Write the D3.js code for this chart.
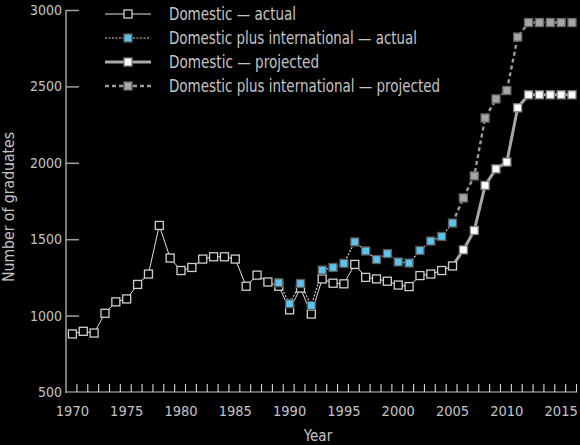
<!DOCTYPE html>
<html>
<head>
<meta charset="utf-8">
<script src="https://cdn.jsdelivr.net/npm/d3@7"></script>
<style>
  body { margin: 0; background: #000; }
  svg { display: block; background: #000; }
  text { font-family: "Liberation Sans Narrow", "DejaVu Sans Condensed", sans-serif; font-stretch: condensed;
         fill: #c4c4c4; }
</style>
</head>
<body>
<svg id="fig"></svg>
<script>
// actual values
const domActualYears = [1970, 1971, 1972, 1973, 1974, 1975, 1976, 1977, 1978, 1979,
                        1980, 1981, 1982, 1983, 1984, 1985, 1986, 1987, 1988, 1989,
                        1990, 1991, 1992, 1993, 1994, 1995, 1996, 1997, 1998, 1999,
                        2000, 2001, 2002, 2003, 2004, 2005];
const domActual = [880, 897, 886, 1015, 1090, 1109, 1204, 1272, 1590, 1377,
                   1295, 1315, 1370, 1385, 1385, 1370, 1192, 1265, 1220, 1192,
                   1038, 1180, 1010, 1240, 1212, 1208, 1335, 1250, 1240, 1225,
                   1200, 1190, 1262, 1272, 1295, 1325];

const intlActualYears = [1989, 1990, 1991, 1992, 1993, 1994, 1995, 1996, 1997,
                         1998, 1999, 2000, 2001, 2002, 2003, 2004, 2005];
const intlActual = [1215, 1078, 1210, 1066, 1298, 1315, 1342, 1482, 1423,
                    1367, 1406, 1351, 1344, 1426, 1488, 1518, 1606];

// projections (first entry joins the last actual year)
const projYears = [2005, 2006, 2007, 2008, 2009, 2010, 2011, 2012, 2013, 2014, 2015, 2016];
const domProj  = [1325, 1430, 1557, 1852, 1960, 2005, 2360, 2445, 2445, 2445, 2445, 2445];
const intlProj = [1606, 1770, 1914, 2293, 2418, 2473, 2823, 2918, 2918, 2918, 2918, 2918];

const yTicks = [500, 1000, 1500, 2000, 2500, 3000];
const xTickLabels = [1970, 1975, 1980, 1985, 1990, 1995, 2000, 2005, 2010, 2015];
const legendLabels = ['Domestic \u2014 actual',
                      'Domestic plus international \u2014 actual',
                      'Domestic \u2014 projected',
                      'Domestic plus international \u2014 projected'];
const legendWidths = [127, 248, 150, 271];

const width = 580, height = 445;
const svg = d3.select('#fig').attr('width', width).attr('height', height);

const x = d3.scaleLinear().domain([1970, 2016]).range([72.4, 572]);
const y = d3.scaleLinear().domain([500, 3000]).range([392, 10]);

const styles = [
  { line: '#e0e0e0', lw: 1, dash: null, fill: '#000', stroke: '#cfcfcf' },
  { line: '#d0d0d0', lw: 1.2, dash: '2,1.5', fill: '#5cc3ec', stroke: '#5a5a5a' },
  { line: '#a8a8a8', lw: 3, dash: null, fill: '#fff', stroke: '#808080' },
  { line: '#9c9c9c', lw: 2.4, dash: '4,3', fill: '#a6a6a6', stroke: '#6a6a6a' }
];

// axes
const axisCol = '#a0a0a0';
svg.append('line').attr('x1', 66).attr('x2', 66).attr('y1', y(3000)).attr('y2', y(500) + 1)
  .attr('stroke', axisCol).attr('stroke-width', 1.5);
svg.append('line').attr('x1', 66).attr('x2', 577).attr('y1', y(500)).attr('y2', y(500))
  .attr('stroke', '#c8c8c8').attr('stroke-width', 1.2);

const yAxis = svg.append('g').attr('transform', 'translate(66,0)')
  .call(d3.axisRight(y).tickValues(yTicks).tickSize(13).tickFormat(''));
yAxis.select('.domain').remove();
yAxis.selectAll('.tick line').attr('stroke', axisCol).attr('stroke-width', 1.5);
yAxis.selectAll('.tick').filter(d => d === 500).select('line').remove();

svg.selectAll('.ylab').data(yTicks).enter().append('text')
  .attr('x', 62).attr('y', d => y(d) + 5)
  .attr('text-anchor', 'end').style('font-size', '14px').text(d => d);

const xt = svg.append('g').attr('transform', `translate(4,${y(500)})`)
  .call(d3.axisTop(x).tickValues(d3.range(1970, 2017)).tickSize(8).tickFormat(''));
xt.select('.domain').remove();
xt.selectAll('.tick line').attr('stroke', '#d8d8d8').attr('stroke-width', 1.1);

svg.selectAll('.xlab').data(xTickLabels).enter().append('text')
  .attr('x', d => x(d)).attr('y', 416)
  .attr('text-anchor', 'middle').style('font-size', '14.5px').text(d => d);

svg.append('text').attr('x', 318).attr('y', 441).attr('text-anchor', 'middle')
  .style('font-size', '15px').text('Year');
svg.append('text').attr('transform', 'translate(14,207) rotate(-90)')
  .attr('text-anchor', 'middle').style('font-size', '16px')
  .attr('textLength', 150).attr('lengthAdjust', 'spacingAndGlyphs')
  .text('Number of graduates');

// series
const line = d3.line().x(d => x(d[0])).y(d => y(d[1]));
const series = [
  { pts: d3.zip(domActualYears, domActual), s: styles[0], skipFirst: false },
  { pts: d3.zip(intlActualYears, intlActual), s: styles[1], skipFirst: false },
  { pts: d3.zip(projYears, domProj), s: styles[2], skipFirst: true },
  { pts: d3.zip(projYears, intlProj), s: styles[3], skipFirst: true }
];
const drawOrder = [0, 2, 1, 3];
drawOrder.forEach(i => {
  const sr = series[i];
  svg.append('path').attr('d', line(sr.pts)).attr('fill', 'none')
    .attr('stroke', sr.s.line).attr('stroke-width', sr.s.lw)
    .attr('stroke-dasharray', sr.s.dash);
});
const sq = 8;
drawOrder.forEach(i => {
  const sr = series[i];
  const pts = sr.skipFirst ? sr.pts.slice(1) : sr.pts;
  svg.append('g').selectAll('rect').data(pts).enter().append('rect')
    .attr('x', d => x(d[0]) - sq / 2).attr('y', d => y(d[1]) - sq / 2)
    .attr('width', sq).attr('height', sq)
    .attr('fill', sr.s.fill).attr('stroke', sr.s.stroke).attr('stroke-width', 1.3);
});

// legend
const leg = svg.append('g');
const rowY = [14, 38, 62, 86];
legendLabels.forEach((lab, i) => {
  const s = styles[i];
  leg.append('line').attr('x1', 105).attr('x2', 151).attr('y1', rowY[i]).attr('y2', rowY[i])
    .attr('stroke', s.line).attr('stroke-width', s.lw).attr('stroke-dasharray', s.dash);
  leg.append('rect').attr('x', 128 - sq / 2).attr('y', rowY[i] - sq / 2)
    .attr('width', sq).attr('height', sq)
    .attr('fill', s.fill).attr('stroke', s.stroke).attr('stroke-width', 1.3);
  leg.append('text').attr('x', 169).attr('y', rowY[i] + 6)
    .style('font-size', '17px')
    .attr('textLength', legendWidths[i]).attr('lengthAdjust', 'spacingAndGlyphs')
    .text(lab);
});
</script>
</body>
</html>
